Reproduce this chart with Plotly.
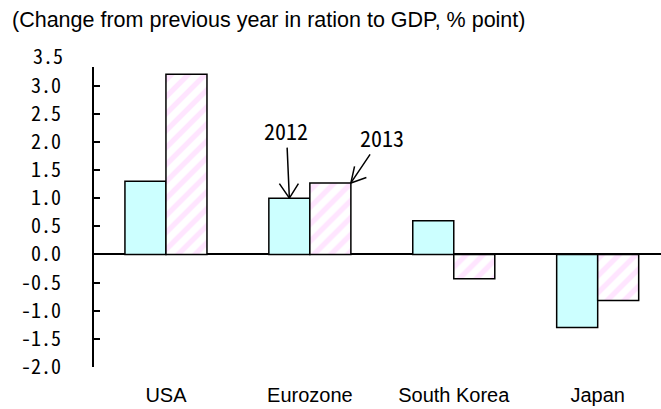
import plotly.graph_objects as go

# Change from previous year, ratio to GDP (% point)
countries = ["USA", "Eurozone", "South Korea", "Japan"]
years = ["2012", "2013"]
values_2012 = [1.3, 1.0, 0.6, -1.3]
values_2013 = [3.2, 1.27, -0.43, -0.82]

y_ticks = [-2.0, -1.5, -1.0, -0.5, 0.0, 0.5, 1.0, 1.5, 2.0, 2.5, 3.0]
y_tick_text = ["-2.0", "-1.5", "-1.0", "-0.5", "0.0", "0.5", "1.0", "1.5", "2.0", "2.5", "3.0"]
top_label = "3.5"

NUM_FONT = "Noto Sans Mono CJK JP, Liberation Sans Narrow, Noto Sans CJK JP"
TXT_FONT = "Liberation Sans, Arial, sans-serif"
BARGAP = 0.43
Y_TOP = 3.33

fig = go.Figure()

fig.add_trace(go.Bar(
    x=countries, y=values_2012, name=years[0],
    marker=dict(color="#CCFFFF", line=dict(color="black", width=1.5)),
))
fig.add_trace(go.Bar(
    x=countries, y=values_2013, name=years[1],
    marker=dict(
        color="white",
        line=dict(color="black", width=1.5),
        pattern=dict(shape="/", fgcolor="#FFCCFF", bgcolor="white", size=12, solidity=0.45),
    ),
))

fig.update_layout(
    width=661, height=409,
    margin=dict(l=94, r=0, t=67, b=42),
    paper_bgcolor="white", plot_bgcolor="white",
    barmode="group", bargap=BARGAP, bargroupgap=0,
    showlegend=False,
    font=dict(family=TXT_FONT, color="black"),
    title=dict(
        text="(Change from previous year in ration to GDP, % point)",
        xref="container", x=12 / 661, xanchor="left",
        yref="container", y=1 - 19 / 409, yanchor="middle",
        font=dict(family=TXT_FONT, size=21.5, color="black"),
    ),
)

fig.update_xaxes(
    range=[-0.5, 3.44], automargin=False,
    showline=False, showgrid=False, zeroline=False, ticks="",
    tickfont=dict(family=TXT_FONT, size=20, color="black"),
    ticklabelstandoff=14,
)

fig.update_yaxes(
    range=[-2.0, Y_TOP], automargin=False,
    tickvals=y_ticks + [Y_TOP], ticktext=y_tick_text + [""],
    showline=True, linecolor="black", linewidth=2,
    ticks="inside", ticklen=6, tickwidth=2, tickcolor="black",
    showgrid=False,
    zeroline=True, zerolinecolor="black", zerolinewidth=2,
    tickfont=dict(family=NUM_FONT, size=20, color="black"),
    ticklabelstandoff=27,
)

# top label sits a little above the last tick
fig.add_annotation(
    x=0, xref="paper", xanchor="right", xshift=-30,
    y=1, yref="paper", yanchor="middle", yshift=12,
    text=top_label, showarrow=False, borderpad=0,
    font=dict(family=NUM_FONT, size=20, color="black"),
)

# year markers pointing at the Eurozone bars (thin open V heads drawn as barbs)
half = (1 - BARGAP) / 2
markers = [
    (years[0], 1 - half / 2, values_2012[1], (-3, -68), [(-11, -16), (10, -16)]),
    (years[1], 1 + half, values_2013[1], (31, -46), [(17, -6), (4, -18)]),
]
for label, xm, ym, (ax, ay), barbs in markers:
    fig.add_annotation(
        x=xm, y=ym, xref="x", yref="y",
        text=label, showarrow=True, ax=ax, ay=ay,
        arrowhead=0, arrowwidth=1.5, arrowcolor="black",
        font=dict(family=NUM_FONT, size=22, color="black"),
    )
    for bx, by in barbs:
        fig.add_annotation(
            x=xm, y=ym, xref="x", yref="y",
            text="", showarrow=True, ax=bx, ay=by,
            arrowhead=0, arrowwidth=1.5, arrowcolor="black",
        )

# drop the page's default body margin so the figure sits at the window origin
fig.write_html(
    "out.html",
    config={"displayModeBar": False},
    post_script="document.body.style.margin='0';",
)
